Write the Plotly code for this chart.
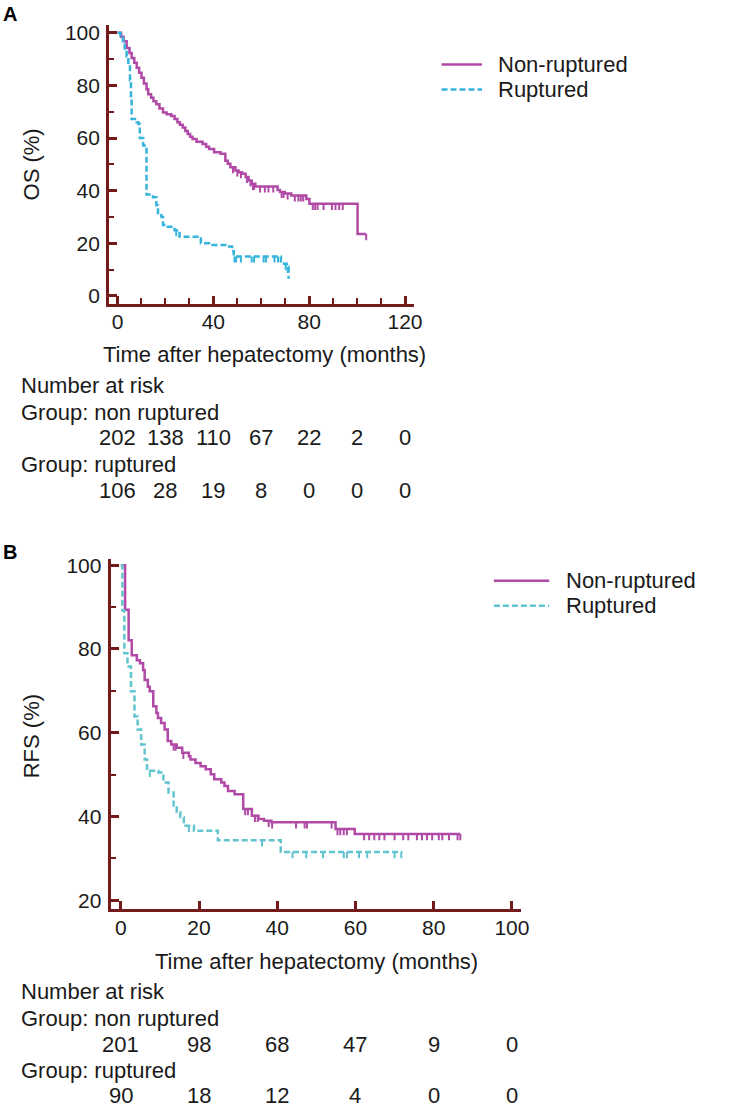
import plotly.graph_objects as go

W, H = 736, 1109

# ---- Panel A: overall survival (months, %) ----
os_non_t = [0, 1.5, 2.5, 3.8, 5, 5.9, 7, 8, 9, 10, 11, 12.1, 12.8, 14, 15, 16.2, 17.5, 19, 20.5, 22.4,
            23.8, 25, 26, 27.2, 28.3, 29.3, 30.3, 31.3, 33, 35.5, 37, 38.2, 40.3, 43, 45, 46, 47.1, 49.2,
            50.5, 52, 53.5, 54.7, 56, 57.5, 66.8, 67.8, 69.8, 72.5, 78.8, 80.1, 100.2, 103.8]
os_non_s = [100, 98.5, 96.8, 94.2, 92.3, 90.4, 88.6, 86.7, 84.8, 82.9, 80.7, 78.5, 76.6, 75.3, 74, 72.8,
            71.2, 69.7, 69, 68.4, 67.2, 66, 65, 64, 62.7, 61.5, 60.5, 59.6, 58.6, 57.7, 56.7, 55.8, 54.6,
            54, 51.4, 50.2, 48.9, 47.7, 47, 46.4, 45.2, 43.9, 42.6, 41.6, 40.3, 39.5, 38.9, 38.2, 36.8,
            35.0, 23.5, 23.5]
os_non_cens_t = [48.2, 50, 51.5, 54, 55.5, 56.5, 57, 59.5, 61.5, 63, 65, 68.5, 69.3, 71, 74, 75.5, 76.5,
                 77.5, 81.5, 82.5, 83.5, 86, 89.5, 91, 92.5, 94, 103.8]
os_non_cens_s = [48.9, 47.7, 47, 45.2, 43.9, 42.6, 42.6, 41.6, 41.6, 41.6, 41.6, 39.5, 39.5, 38.9, 38.2,
                 38.2, 38.2, 38.2, 35, 35, 35, 35, 35, 35, 35, 35, 23.5]

os_rup_t = [0, 1.2, 2.2, 3.0, 3.8, 4.5, 5.2, 5.6, 5.9, 8.0, 8.7, 9.3, 10.7, 12.1, 14.8, 16.2, 16.9, 18.3,
            19.0, 21.0, 23.8, 25.9, 33.4, 34.8, 38.2, 45.0, 47.8, 48.5, 68.2, 69.5, 70.7, 71.4]
os_rup_s = [100, 99, 97, 94, 91, 88, 82, 75, 67.2, 66, 65.3, 60, 57.2, 38.5, 37.5, 34.5, 31.5, 30, 27,
            26.3, 25, 22.5, 21.8, 20, 19.4, 18.8, 17, 15, 13.2, 12.2, 11, 6.5]
os_rup_cens_t = [24.5, 48.8, 49.5, 51.5, 56, 57, 61, 62, 65.5, 67, 70.2, 71.0]
os_rup_cens_s = [25, 15, 15, 15, 15, 15, 15, 15, 15, 15, 12.2, 11]

os_risk_times = [0, 20, 40, 60, 80, 100, 120]
os_risk_non = [202, 138, 110, 67, 22, 2, 0]
os_risk_rup = [106, 28, 19, 8, 0, 0, 0]

# ---- Panel B: recurrence-free survival ----
rfs_non_t = [0, 1.1, 2.0, 2.8, 4.1, 4.9, 5.7, 6.1, 6.9, 7.4, 8.3, 9.1, 9.5, 10.3, 11.2, 12.0, 12.9, 14.3,
             15.7, 17.4, 17.8, 19.1, 20.4, 21.7, 23.0, 23.9, 25.7, 26.5, 27.4, 29.1, 31.3, 33.5, 35.2,
             36.6, 38.5, 54.9, 59.8, 86.8]
rfs_non_s = [100, 89.4, 82.1, 78.5, 77.3, 76.6, 75.0, 72.6, 71.0, 69.9, 66.3, 64.7, 63.5, 62.3, 60.8,
             58.0, 57.2, 56.4, 55.2, 54.4, 53.6, 52.8, 52.0, 51.3, 50.1, 48.9, 48.1, 47.3, 46.1, 45.3,
             41.8, 40.2, 39.4, 39.0, 38.6, 37.0, 35.8, 35.8]
rfs_non_cens_t = [13.5, 14.0, 16.0, 31.8, 32.5, 34.3, 35.0, 37.8, 38.7, 44.8, 47.0, 47.6, 53.9, 55.4,
                  56.1, 57.0, 57.8, 62.2, 63.5, 64.8, 66.1, 67.4, 70.0, 72.2, 73.5, 75.7, 77.0, 78.3,
                  79.6, 81.3, 82.2, 83.9, 86.1, 86.8]
rfs_non_cens_s = [57.2, 57.2, 55.2, 41.8, 41.8, 40.2, 40.2, 39.0, 38.6, 38.6, 38.6, 38.6, 38.6, 37.0,
                  37.0, 37.0, 37.0, 35.8, 35.8, 35.8, 35.8, 35.8, 35.8, 35.8, 35.8, 35.8, 35.8, 35.8,
                  35.8, 35.8, 35.8, 35.8, 35.8, 35.8]

rfs_rup_t = [0, 0.4, 0.9, 1.7, 2.6, 3.5, 4.3, 5.2, 6.1, 6.7, 9.6, 10.9, 12.2, 13.5, 14.3, 15.2, 16.1,
             18.7, 24.8, 40.9, 72.0]
rfs_rup_s = [100, 89.2, 79.0, 75.8, 69.9, 63.9, 60.8, 57.2, 53.6, 50.9, 50.5, 48.1, 45.7, 42.6, 41.0,
             39.8, 37.8, 36.6, 34.3, 31.5, 31.5]
rfs_rup_cens_t = [7.4, 17.4, 36.1, 43.9, 47.4, 51.7, 57.0, 57.8, 60.9, 63.0, 70.0, 71.7]
rfs_rup_cens_s = [50.9, 37.8, 34.3, 31.5, 31.5, 31.5, 31.5, 31.5, 31.5, 31.5, 31.5, 31.5]

rfs_risk_times = [0, 20, 40, 60, 80, 100]
rfs_risk_non = [201, 98, 68, 47, 9, 0]
rfs_risk_rup = [90, 18, 12, 4, 0, 0]

AXIS = "#741a1a"
MAGENTA = "#b04aa6"
CYAN_A = "#36b4dc"
CYAN_B = "#62c4cf"
TEXT = "#1a1a1a"
FONT = "Liberation Sans, Arial, sans-serif"
FS = 22       # annotation text
FS_TICK = 21  # tick labels


def fx(p):
    return p / W


def fy(p):
    return 1 - p / H


fig = go.Figure()


def add_curve(t, s, ct, cs, color, dash, xa, ya, tick):
    fig.add_trace(go.Scatter(
        x=t, y=s, mode="lines", xaxis=xa, yaxis=ya, showlegend=False, hoverinfo="skip",
        line=dict(shape="hv", color=color, width=2.5, dash=dash),
    ))
    # censor marks: short ticks hanging below the curve
    fig.add_trace(go.Scatter(
        x=ct, y=cs, mode="markers", xaxis=xa, yaxis=ya, showlegend=False, hoverinfo="skip",
        marker=dict(size=0.1, color=color),
        error_y=dict(type="constant", value=0, valueminus=tick, symmetric=False,
                     width=0, thickness=2, color=color),
    ))


add_curve(os_non_t, os_non_s, os_non_cens_t, os_non_cens_s, MAGENTA, "solid", "x", "y", 2.3)
add_curve(os_rup_t, os_rup_s, os_rup_cens_t, os_rup_cens_s, CYAN_A, "6px,3px", "x", "y", 2.3)
add_curve(rfs_non_t, rfs_non_s, rfs_non_cens_t, rfs_non_cens_s, MAGENTA, "solid", "x2", "y2", 1.5)
add_curve(rfs_rup_t, rfs_rup_s, rfs_rup_cens_t, rfs_rup_cens_s, CYAN_B, "6px,3px", "x2", "y2", 1.5)

common = dict(
    showline=True, linecolor=AXIS, linewidth=3, ticks="inside", tickcolor=AXIS, tickwidth=2.5,
    ticklen=8, showgrid=False, zeroline=False, fixedrange=True,
    tickfont=dict(family=FONT, size=FS_TICK, color=TEXT),
)
minor10 = dict(ticks="inside", dtick=10, ticklen=5, tickcolor=AXIS, tickwidth=2, showgrid=False)

fig.update_layout(
    width=W, height=H,
    margin=dict(l=0, r=0, t=0, b=0),
    paper_bgcolor="white", plot_bgcolor="white",
    font=dict(family=FONT, size=FS, color=TEXT),
    xaxis=dict(common, domain=[fx(110.5), fx(419)], range=[-3.5, 123.7], tick0=0, dtick=40,
               minor=dict(minor10, ticklen=6), anchor="y", ticklabelstandoff=-3),
    yaxis=dict(common, domain=[fy(301), fy(20)], range=[-3, 103], tick0=0, dtick=20,
               minor=minor10, anchor="x", ticklabelstandoff=2),
    xaxis2=dict(common, domain=[fx(112), fx(527)], range=[-2.6, 102.2], tick0=0, dtick=20,
                anchor="y2", ticklabelstandoff=-3),
    yaxis2=dict(common, domain=[fy(911), fy(558)], range=[17.8, 101.5], tick0=20, dtick=20,
                minor=minor10, anchor="x2", ticklabelstandoff=2),
)

ann = []


def text(x, y, s, xanchor="left", xref="paper", **kw):
    ann.append(dict(x=x, y=y, xref=xref, yref="paper", text=s, showarrow=False, borderpad=0,
                    xanchor=xanchor, yanchor="middle", font=dict(family=FONT, size=FS, color=TEXT),
                    **kw))


# panel letters
ann.append(dict(x=fx(1), y=fy(9), xref="paper", yref="paper", text="<b>A</b>", showarrow=False,
                xanchor="left", yanchor="middle", font=dict(family=FONT, size=20, color="black")))
ann.append(dict(x=fx(1), y=fy(551), xref="paper", yref="paper", text="<b>B</b>", showarrow=False,
                xanchor="left", yanchor="middle", font=dict(family=FONT, size=20, color="black")))

# axis titles
text(fx(32), fy(161), "OS (%)", xanchor="center", textangle=-90)
text(fx(268), fy(352), "Time after hepatectomy (months)", xanchor="center")
text(fx(32), fy(737), "RFS (%)", xanchor="center", textangle=-90)
text(fx(320), fy(963), "Time after hepatectomy (months)", xanchor="center")

# risk tables (row centres in pixels from the top)
for rows, times, non, rup, xr in [((383, 410, 436, 463, 489), os_risk_times, os_risk_non, os_risk_rup, "x"),
                                  ((994, 1021, 1047, 1073, 1098), rfs_risk_times, rfs_risk_non, rfs_risk_rup, "x2")]:
    text(fx(20), fy(rows[0]), "Number at risk")
    text(fx(20), fy(rows[1]), "Group: non ruptured")
    text(fx(20), fy(rows[3]), "Group: ruptured")
    for t, a, b in zip(times, non, rup):
        text(t, fy(rows[2]), str(a), xanchor="center", xref=xr)
        text(t, fy(rows[4]), str(b), xanchor="center", xref=xr)

# legends (line sample + label)
shapes = []
for (x0, x1, xt, y_non, y_rup, cyan) in [(447, 488, 503, 60, 85, CYAN_A),
                                         (500, 556, 572, 580, 605, CYAN_B)]:
    shapes.append(dict(type="line", xref="paper", yref="paper", x0=fx(x0), x1=fx(x1),
                       y0=fy(y_non), y1=fy(y_non), line=dict(color=MAGENTA, width=2.5)))
    shapes.append(dict(type="line", xref="paper", yref="paper", x0=fx(x0), x1=fx(x1),
                       y0=fy(y_rup), y1=fy(y_rup), line=dict(color=cyan, width=2.5, dash="6px,3px")))
    text(fx(xt), fy(y_non), "Non-ruptured")
    text(fx(xt), fy(y_rup), "Ruptured")

fig.update_layout(annotations=ann, shapes=shapes)

# drop the default 8px page margin so the figure sits at the window's corner
fig.write_html("out.html", config={"displayModeBar": False},
               post_script="document.body.style.margin='0px';")
